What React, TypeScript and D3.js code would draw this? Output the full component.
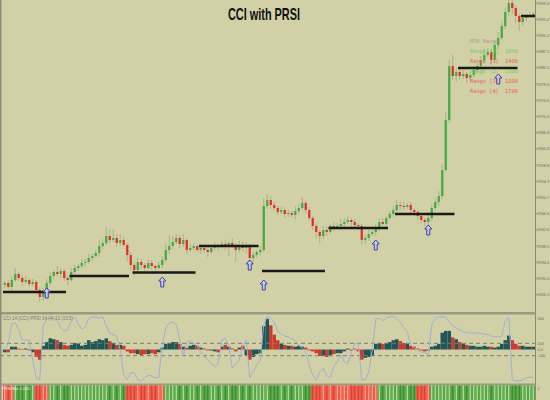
import React from 'react';
import * as d3 from 'd3';

// ---------- DATA ----------
const FIRST_OPEN = 2928.75;
const CLOSES = [
  2929.25, 2928.25, 2930, 2931.5, 2930.5, 2929.5, 2930, 2929, 2929.5, 2927.5,
  2925.75, 2927.25, 2929.25, 2931, 2932, 2931.5, 2932.25, 2930.5, 2930, 2932,
  2933, 2933.5, 2934.25, 2934.5, 2935.5, 2936, 2936.75, 2938.5, 2939.25, 2941,
  2940, 2940.5, 2939.25, 2940, 2938.75, 2936.25, 2933.75, 2932.5, 2934.5, 2933.75,
  2933, 2934.25, 2933.5, 2933, 2933.75, 2935, 2937.5, 2938.5, 2939.5, 2940.5,
  2939, 2940, 2937.5, 2938, 2938.5, 2937.5, 2938, 2937.5, 2937, 2938,
  2938.5, 2938.25, 2939, 2938.5, 2939.25, 2938.75, 2937.5, 2938.75, 2938, 2938.5,
  2935.5, 2936.25, 2937, 2937.5, 2948.5, 2950, 2948.75, 2948, 2947, 2947.5,
  2946.5, 2946.75, 2946.25, 2947.25, 2948, 2949.25, 2947.5, 2945.5, 2943.5, 2942,
  2941, 2942.5, 2942, 2943.5, 2943, 2943.5, 2944, 2944.5, 2945, 2944.5,
  2943.75, 2943.5, 2940, 2940.5, 2941.5, 2942, 2943, 2944.5, 2944, 2945.5,
  2946.5, 2947.5, 2948.75, 2948.5, 2948.25, 2948.75, 2947.5, 2947, 2946, 2945,
  2944.5, 2945.5, 2948, 2949.5, 2951, 2957.5, 2970, 2983.5, 2981, 2982,
  2981, 2981.5, 2980.5, 2981.25, 2982.5, 2983.5, 2985, 2986.25, 2987, 2985,
  2988.75, 2990.5, 2993.5, 2997, 2999.25, 2998, 2996, 2994.5, 2995.5, 2996,
  2996.25, 2996.5,
];
const WICK_HI = [
  0.5, 0.75, 1, 1.5, 0.5, 0.75, 1, 0.5, 0.75, 0.5,
  0.5, 0.75, 1, 1, 0.5, 1.5, 0.75, 0.5, 0.5, 1,
  0.75, 0.5, 1, 0.75, 1, 0.5, 0.75, 1.5, 1, 2.25,
  1.5, 2.25, 1, 1.5, 0.75, 0.5, 0.75, 0.5, 1, 0.75,
  0.5, 1, 0.75, 0.5, 0.75, 1, 1.5, 2.5, 1.5, 1,
  0.75, 1.5, 0.5, 1, 0.75, 0.5, 1, 0.75, 0.5, 0.75,
  1, 0.5, 0.75, 1, 0.5, 1.25, 0.5, 1, 0.75, 1,
  0.5, 0.75, 0.5, 1, 2, 1.5, 1, 0.75, 0.5, 1,
  0.75, 1, 0.5, 1.25, 1, 1.5, 0.5, 0.75, 0.5, 0.75,
  0.5, 1, 0.75, 0.5, 1, 0.75, 1.25, 1, 0.75, 0.5,
  0.75, 0.5, 0.5, 0.75, 1, 0.5, 1, 0.75, 1, 0.5,
  0.75, 1, 1.25, 0.75, 1, 0.5, 0.75, 0.5, 0.5, 0.75,
  0.5, 1, 0.75, 1, 1.25, 1.5, 2, 1.5, 2.75, 1,
  0.75, 1, 0.5, 0.75, 1, 0.75, 1, 1.5, 1, 0.75,
  1, 1.5, 1.25, 1, 2, 1, 0.75, 0.5, 0.75, 0.5,
  0.75, 0.5,
];
const WICK_LO = [
  0.75, 0.5, 1, 0.5, 0.75, 1, 0.5, 0.75, 0.5, 1,
  1.25, 1, 0.75, 0.5, 0.75, 0.5, 1, 0.75, 1.25, 0.5,
  0.5, 0.75, 0.5, 1, 0.5, 0.75, 0.5, 1, 0.75, 0.5,
  0.75, 0.5, 1, 0.75, 0.5, 1.5, 1.25, 1.5, 0.75, 1,
  0.75, 0.5, 1, 0.75, 0.5, 0.75, 0.5, 1, 0.75, 0.5,
  1, 0.75, 1, 0.5, 0.75, 0.5, 1, 0.75, 1.25, 0.5,
  0.75, 1, 0.5, 1, 2.5, 0.75, 3, 0.75, 1, 1.5,
  2.5, 1, 0.75, 1, 0.5, 0.75, 1, 0.5, 0.75, 0.5,
  1, 0.75, 0.5, 1, 0.75, 0.5, 1, 0.75, 1, 1.5,
  1.75, 0.75, 1, 0.5, 0.75, 0.5, 1, 0.75, 0.5, 1,
  0.5, 1, 1.25, 1, 0.75, 0.5, 1, 0.75, 0.5, 1,
  0.5, 0.75, 0.5, 1, 0.75, 0.5, 1, 0.75, 1, 0.75,
  1, 1.5, 0.75, 0.5, 1, 0.75, 0.5, 0.75, 1, 1.5,
  1, 0.75, 1.25, 0.75, 0.5, 1, 0.75, 1, 0.5, 1.25,
  0.75, 1, 0.5, 0.75, 1, 1.5, 1.75, 2.25, 1, 0.75,
  0.5, 0.75,
];
const CCI_HIST = [
  -45, -45, 45, 45, 15, 8, 15, -15, -45, -120,
  -165, 60, 120, 180, 165, 150, 120, 75, 60, 75,
  105, 90, 60, 75, 150, 120, 135, 165, 150, 180,
  135, 105, 75, 75, 60, -30, -60, -60, -75, -90,
  -75, -75, -60, -75, -45, 30, 90, 105, 120, 120,
  90, 45, 30, 60, 75, 60, 30, 15, -15, -15,
  -30, -45, 45, 75, 45, 15, -30, 30, 60, -90,
  -165, -120, -75, -60, 375, 495, 390, 240, 150, 90,
  75, 60, 60, 45, 60, 45, 30, -15, -30, -60,
  -105, -105, -120, -90, -75, -60, -60, -30, 15, -15,
  15, -30, -165, -135, -120, -105, 90, 105, 90, 105,
  120, 150, 165, 135, 105, 90, 60, 45, 15, -15,
  -30, -15, 45, 60, 90, 270, 300, 300, 195, 165,
  120, 90, 75, 60, 60, 45, 45, 60, 45, 45,
  30, 45, 90, 150, 225, 150, 90, 60, 60, 45,
  45, 45,
];
const PRSI = [
  48, 59, 89, 91, 80, 64, 64, 63, 33, 5,
  2, 86, 97, 98, 98, 95, 83, 78, 80, 95,
  100, 89, 81, 84, 98, 100, 100, 98, 100, 86,
  75, 72, 70, 48, 9, 2, 13, 13, 2, 0,
  5, 9, 8, 5, 6, 56, 83, 91, 92, 88,
  64, 39, 61, 63, 59, 55, 45, 38, 33, 27,
  23, 27, 64, 67, 56, 20, 27, 33, 56, 64,
  5, 14, 25, 33, 88, 100, 98, 92, 77, 73,
  70, 69, 66, 63, 56, 52, 45, 25, 9, 2,
  14, 20, 8, 5, 23, 30, 41, 30, 27, 45,
  58, 59, 2, 2, 14, 48, 97, 98, 94, 98,
  100, 100, 98, 92, 83, 77, 56, 52, 48, 45,
  45, 41, 88, 98, 100, 100, 100, 92, 86, 83,
  80, 77, 75, 75, 75, 75, 75, 73, 73, 70,
  69, 69, 70, 95, 100, 2, 0, 0, 2, 5,
  6, 6,
];
const PRICE_TICKS = [
  2999.25, 2995.2, 2991.15, 2987.1, 2983.05, 2979.0, 2974.95, 2970.9, 2966.85, 2962.8,
  2958.75, 2954.7, 2950.65, 2946.6, 2942.55, 2938.5, 2934.45, 2930.4, 2926.35,
];
const CCI_TICKS = [500, 100, 0, -100];
const CCI_TICK_LABELS = ['500', '100', '0.0', '-100'];
const SUPPORT_FROM = [0, 19, 37, 56, 74, 93, 112, 130, 148];
const SUPPORT_TO = [17, 35, 54, 72, 91, 109, 128, 146, 151];
const SUPPORT_PRICE = [2927, 2931, 2931.9, 2938.5, 2932.25, 2943, 2946.5, 2983, 2996];
const ARROW_INDEX = [12, 45, 70, 74, 106, 121, 141];
const ARROW_PRICE = [2928, 2930.75, 2935, 2930, 2940, 2943.75, 2981.5];
const RED_ZONE_FROM = [0, 9, 35, 88, 118];
const RED_ZONE_TO = [2, 12, 45, 106, 121];
const LEGEND_LABELS = ['M30 Range', 'Range [5]', 'Range [1]', 'Range [2]', 'Range [3]', 'Range [4]'];
const LEGEND_VALUES = ['', '1600', '2400', '1500', '1800', '1700'];
const LEGEND_KIND = ['head', 'up', 'down', 'up', 'down', 'down'];

const BG = '#d2d0a6';
const UP = '#44aa44';
const DOWN = '#e0302a';

export default function App() {
  const N = CLOSES.length;
  const idx = d3.range(N);
  const x = d3.scaleBand<number>().domain(idx).range([3, 535]).paddingInner(0.35).paddingOuter(0.175);
  const step = x.step();
  const bw = x.bandwidth();
  const cx = (i: number) => (x(i) as number) + bw / 2;
  const y = d3.scaleLinear().domain([3000, 2900]).range([0, 400]);
  const yc = d3.scaleLinear().domain([-100, 100]).range([355.7, 343.3]);
  const yp = d3.scaleLinear().domain([0, 100]).range([381, 317]);

  const candles = CLOSES.map((c, i) => {
    const o = i === 0 ? FIRST_OPEN : CLOSES[i - 1];
    return { o, c, h: Math.max(o, c) + WICK_HI[i], l: Math.min(o, c) - WICK_LO[i], up: c >= o };
  });

  const prsiLine = d3.line<number>().x((_, i) => cx(i)).y((d) => yp(d))(PRSI) || '';

  const isRed = (i: number) => RED_ZONE_FROM.some((f, k) => i >= f && i <= RED_ZONE_TO[k]);

  const arrowPath = 'M0,0 L3.5,4 L1.5,4 L1.5,10 L-1.5,10 L-1.5,4 L-3.5,4 Z';
  const axisFont = "'Liberation Sans', Arial, sans-serif";

  return (
    <svg width={550} height={400} style={{ position: 'absolute', left: 0, top: 0 }} xmlns="http://www.w3.org/2000/svg">
      <defs>
        <clipPath id="mainClip"><rect x={0} y={0} width={535} height={312} /></clipPath>
        <clipPath id="cciClip"><rect x={0} y={314.5} width={535} height={69} /></clipPath>
      </defs>
      <rect x={0} y={0} width={550} height={400} fill={BG} />

      {/* title */}
      <text x={264} y={20} textAnchor="middle" fontFamily="'Liberation Sans', Arial, sans-serif" fontWeight="bold"
        fontSize={17} fill="#111" textLength={72} lengthAdjust="spacingAndGlyphs">CCI with PRSI</text>

      {/* main panel */}
      <g clipPath="url(#mainClip)">
        {candles.map((d, i) => (
          <line key={'w' + i} x1={cx(i)} x2={cx(i)} y1={y(d.h)} y2={y(d.l)} stroke="#a9b38a" strokeWidth={1} />
        ))}
        {candles.map((d, i) => (
          <rect key={'b' + i} x={x(i)} width={bw} y={y(Math.max(d.o, d.c))}
            height={Math.max(1, Math.abs(y(d.o) - y(d.c)))} fill={d.up ? UP : DOWN} />
        ))}
        {SUPPORT_PRICE.map((p, k) => (
          <line key={'s' + k} x1={(x(SUPPORT_FROM[k]) as number) - (step - bw) / 2}
            x2={(x(SUPPORT_TO[k]) as number) + bw + (step - bw) / 2}
            y1={y(p)} y2={y(p)} stroke="#1a1a18" strokeWidth={2.5} />
        ))}
        {ARROW_INDEX.map((ai, k) => (
          <path key={'a' + k} d={arrowPath} transform={`translate(${cx(ai)},${y(ARROW_PRICE[k])})`}
            fill="#c9c9e4" stroke="#3f3fa8" strokeWidth={1} />
        ))}
        {LEGEND_LABELS.map((t, k) => {
          const col = LEGEND_KIND[k] === 'head' ? '#a2a28e' : LEGEND_KIND[k] === 'up' ? '#74cf5c' : '#e4665a';
          return (
            <g key={'l' + k} fontFamily="'DejaVu Sans Mono', monospace" fontSize={5.5} fill={col}>
              <text x={470} y={42.5 + k * 10} textLength={t.length * 3.2} lengthAdjust="spacingAndGlyphs">{t}</text>
              {LEGEND_VALUES[k] ? (
                <text x={505} y={42.5 + k * 10} textLength={13} lengthAdjust="spacingAndGlyphs">{LEGEND_VALUES[k]}</text>
              ) : null}
            </g>
          );
        })}
      </g>

      {/* price axis */}
      <line x1={535.5} x2={535.5} y1={0} y2={400} stroke="#8a8a70" strokeWidth={1} />
      {PRICE_TICKS.map((t, k) => (
        <g key={'t' + k}>
          <line x1={535.5} x2={537.5} y1={y(t)} y2={y(t)} stroke="#8a8a70" />
          <text x={537.5} y={y(t) + 1.5} fontSize={3.8} fontFamily={axisFont} fill="#6a6a58">{t.toFixed(1)}</text>
        </g>
      ))}

      {/* separators */}
      <rect x={0} y={312} width={536} height={2.5} fill="#9a9a84" />
      <rect x={0} y={383.5} width={536} height={2} fill="#9a9a84" />
      <line x1={0.75} x2={0.75} y1={0} y2={400} stroke="#8c8c7a" strokeWidth={1.5} />

      {/* CCI panel */}
      <g clipPath="url(#cciClip)">
        {CCI_HIST.map((v, i) => (
          <rect key={'h' + i} x={(x(i) as number) - (step - bw) / 2} width={step}
            y={Math.min(yc(v), yc(0))} height={Math.abs(yc(v) - yc(0))}
            fill={candles[i].up ? '#1f5757' : '#cf3a30'} />
        ))}
        <line x1={0} x2={535} y1={yc(100)} y2={yc(100)} stroke="#7c7c6a" strokeDasharray="4,3" strokeWidth={1} />
        <line x1={0} x2={535} y1={yc(-100)} y2={yc(-100)} stroke="#7c7c6a" strokeDasharray="4,3" strokeWidth={1} />
        <path d={prsiLine} fill="none" stroke="#9fb0d6" strokeWidth={1} />
        <text x={3} y={320} fontSize={4.5} fontFamily={axisFont} fill="#7a7a6a">CCI 14 (CCI) PRSI 14 (4) 13 (19.5)</text>
      </g>
      {CCI_TICKS.map((t, k) => (
        <text key={'c' + k} x={537.5} y={yc(t) + 1.5} fontSize={3.8} fontFamily={axisFont} fill="#6a6a58">{CCI_TICK_LABELS[k]}</text>
      ))}

      {/* color bar */}
      {idx.map((i) => {
        const red = isRed(i);
        const base = red ? '#ee5a48' : '#58a646';
        const stripe = candles[i].up ? (red ? '#ffb2a4' : '#c6e8b4') : (red ? '#d63c2e' : '#2f8a2c');
        const x0 = (x(i) as number) - (step - bw) / 2;
        return (
          <g key={'cb' + i}>
            <rect x={x0} y={385.5} width={step + 0.2} height={14.5} fill={base} />
            <rect x={x0 + step / 2 - 0.5} y={385.5} width={1} height={14.5} fill={stripe} />
          </g>
        );
      })}
      <text x={2} y={390} fontSize={4} fontFamily={axisFont} fill="#f4f0e0">PRSI Bar 1.000</text>
      <text x={537.5} y={390} fontSize={3.8} fontFamily={axisFont} fill="#6a6a58">1</text>
    </svg>
  );
}
